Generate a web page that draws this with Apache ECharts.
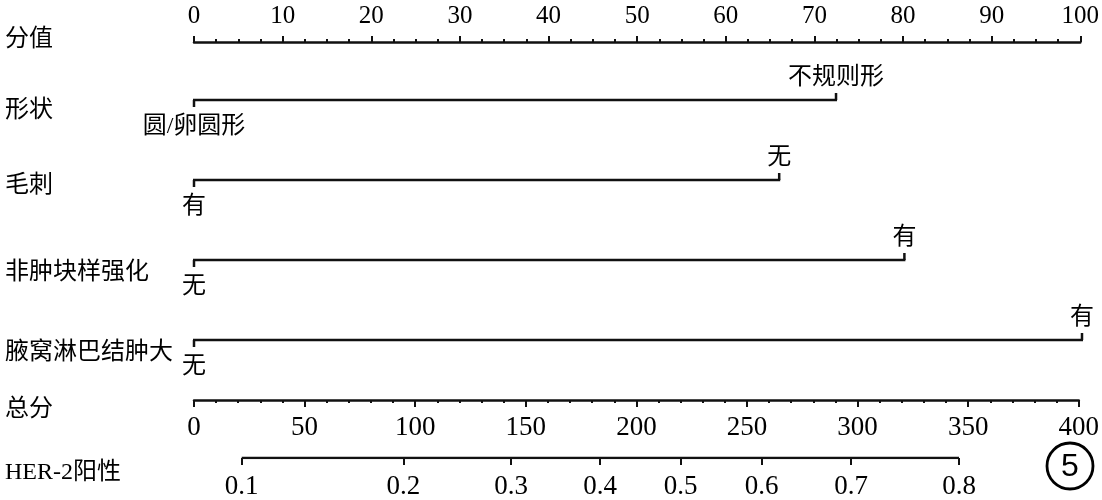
<!DOCTYPE html>
<html><head><meta charset="utf-8">
<script src="https://cdn.jsdelivr.net/npm/echarts@6/dist/echarts.min.js"></script>
<style>html,body{margin:0;padding:0;background:#fff}#c{width:1102px;height:500px}</style>
</head><body><div id="c"></div>
<script>
// ---- data ----
const pointsAxisTitle = '分值';
const totalAxisTitle = '总分';
const probAxisTitle = 'HER-2阳性';
const rowNames = ['形状', '毛刺', '非肿块样强化', '腋窝淋巴结肿大'];
const rowMaxPoints = [72.3, 65.9, 80.0, 100];
const rowLowLabels = ['圆/卵圆形', '有', '无', '无'];
const rowHighLabels = ['不规则形', '无', '有', '有'];
const pointsMin = 0, pointsMax = 100, pointsStep = 10;
const totalMin = 0, totalMax = 400, totalStep = 50;
const probLabels = ['0.1', '0.2', '0.3', '0.4', '0.5', '0.6', '0.7', '0.8'];
const probTotalPoints = [21.5, 94.3, 142.8, 182.9, 219.2, 255.7, 296.0, 344.6];

// ---- styles ----
const SERIF = '"Liberation Serif", "Noto Sans CJK SC", serif';
const INK = '#111';
const CJK_SIZE = 24;
const NUM_SIZE = 25;
const NUM_SIZE_B = 27;

const chart = echarts.init(document.getElementById('c'), null, {renderer: 'canvas'});

const gridBase = {left: 194, right: 20, containLabel: false};
const lineStyle = {color: INK, width: 2.5};
const tickStyle = {color: INK, width: 2};

const rowData = rowMaxPoints.map((v, i) => [v, i]);

function txt(text, x, y, size, align) {
  return {type: 'text', x: x, y: y, style: {text: text, font: size + 'px ' + SERIF, fill: '#000', align: align || 'left', verticalAlign: 'middle'}};
}
const rowLabelY = [111, 186, 273, 353];

const option = {
  animation: false,
  backgroundColor: '#fff',
  grid: [
    Object.assign({top: 41, height: 1}, gridBase),
    Object.assign({top: 100, height: 240}, gridBase),
    Object.assign({top: 399, height: 1}, gridBase),
    Object.assign({top: 457, height: 1}, gridBase)
  ],
  xAxis: [
    {gridIndex: 0, type: 'value', position: 'top', min: pointsMin, max: pointsMax, interval: pointsStep,
     axisLine: {show: true, lineStyle: lineStyle},
     axisTick: {show: true, length: 6, lineStyle: tickStyle},
     minorTick: {show: true, splitNumber: 4, length: 3, lineStyle: tickStyle},
     splitLine: {show: false}, minorSplitLine: {show: false},
     axisLabel: {fontSize: NUM_SIZE, fontFamily: SERIF, color: '#000', margin: 12}},
    {gridIndex: 1, type: 'value', min: pointsMin, max: pointsMax, show: false},
    {gridIndex: 2, type: 'value', position: 'bottom', min: totalMin, max: totalMax, interval: totalStep,
     axisLine: {show: true, lineStyle: lineStyle},
     axisTick: {show: true, length: 7, lineStyle: tickStyle},
     minorTick: {show: true, splitNumber: 5, length: 3, lineStyle: tickStyle},
     splitLine: {show: false}, minorSplitLine: {show: false},
     axisLabel: {fontSize: NUM_SIZE_B, fontFamily: SERIF, color: '#000', margin: 14}},
    {gridIndex: 3, type: 'value', position: 'bottom', min: totalMin, max: totalMax,
     axisLine: {show: false},
     axisTick: {show: true, customValues: probTotalPoints, length: 7, lineStyle: tickStyle},
     splitLine: {show: false},
     axisLabel: {customValues: probTotalPoints, fontSize: NUM_SIZE_B, fontFamily: SERIF, color: '#000', margin: 15,
       formatter: function (v) {
         let best = 0, d = Infinity;
         probTotalPoints.forEach((p, k) => { if (Math.abs(p - v) < d) { d = Math.abs(p - v); best = k; } });
         return probLabels[best];
       }}}
  ],
  yAxis: [
    {gridIndex: 0, type: 'value', min: 0, max: 1, show: false},
    {gridIndex: 1, type: 'value', min: 0, max: rowNames.length - 1, inverse: true, show: false},
    {gridIndex: 2, type: 'value', min: 0, max: 1, show: false},
    {gridIndex: 3, type: 'value', min: 0, max: 1, show: false}
  ],
  series: [
    {
      type: 'custom', xAxisIndex: 1, yAxisIndex: 1, data: rowData, silent: true,
      renderItem: function (params, api) {
        const v = api.value(0), i = api.value(1);
        const p0 = api.coord([0, i]), p1 = api.coord([v, i]);
        const st = {stroke: INK, lineWidth: 2.5};
        return {type: 'group', children: [
          {type: 'line', shape: {x1: p0[0] - 1, y1: p0[1], x2: p1[0] + 1, y2: p1[1]}, style: st},
          {type: 'line', shape: {x1: p0[0], y1: p0[1], x2: p0[0], y2: p0[1] + 7}, style: st},
          {type: 'line', shape: {x1: p1[0], y1: p1[1], x2: p1[0], y2: p1[1] - 7}, style: st},
          txt(rowLowLabels[i], p0[0], p0[1] + 27, CJK_SIZE, 'center'),
          txt(rowHighLabels[i], p1[0], p1[1] - 22, CJK_SIZE, 'center')
        ]};
      }
    },
    {
      type: 'line', xAxisIndex: 3, yAxisIndex: 3, silent: true, symbol: 'none',
      data: [[probTotalPoints[0], 0], [probTotalPoints[probTotalPoints.length - 1], 0]],
      lineStyle: {color: INK, width: 2.5}
    }
  ],
  graphic: [
    txt(pointsAxisTitle, 5, 40, CJK_SIZE),
    txt(rowNames[0], 5, rowLabelY[0], CJK_SIZE),
    txt(rowNames[1], 5, rowLabelY[1], CJK_SIZE),
    txt(rowNames[2], 5, rowLabelY[2], CJK_SIZE),
    txt(rowNames[3], 5, rowLabelY[3], CJK_SIZE),
    txt(totalAxisTitle, 5, 410, CJK_SIZE),
    txt(probAxisTitle, 5, 473, CJK_SIZE),
    {type: 'circle', shape: {cx: 1070, cy: 466, r: 23}, style: {fill: 'none', stroke: '#000', lineWidth: 2.8}},
    {type: 'text', x: 1070, y: 467, style: {text: '5', font: '32px "Liberation Sans", sans-serif', fill: '#000', align: 'center', verticalAlign: 'middle'}}
  ]
};
chart.setOption(option);
</script>
</body></html>
